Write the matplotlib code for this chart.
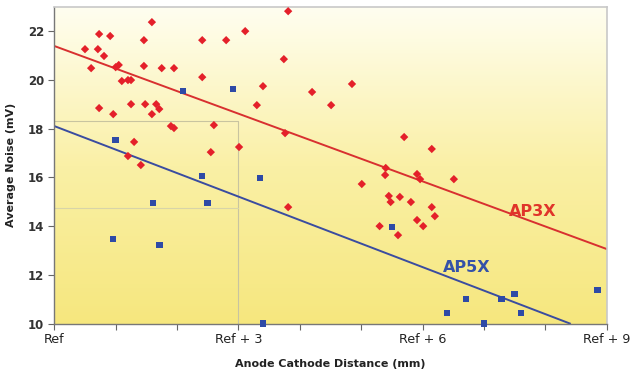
import numpy as np
import matplotlib
matplotlib.use("Agg")
import matplotlib.pyplot as plt
from matplotlib.colors import LinearSegmentedColormap

# --- Data ---
ap3x_x = [0.50, 0.60, 0.71, 0.73, 0.81, 0.91, 0.73, 0.96, 1.00, 1.05, 1.10, 1.20,
          1.25, 1.25, 1.20, 1.30, 1.41, 1.46, 1.46, 1.48, 1.59, 1.59, 1.66, 1.71,
          1.75, 1.90, 1.95, 1.95, 2.41, 2.41, 2.55, 2.60, 2.80, 3.01, 3.11, 3.30,
          3.40, 3.74, 3.76, 3.81, 4.20, 3.81, 4.51, 4.85, 5.01, 5.70, 6.15, 5.40,
          5.39, 5.91, 5.96, 6.51, 5.45, 5.63, 5.48, 5.81, 6.15, 6.20, 5.91, 6.01,
          5.30, 5.60]
ap3x_y = [21.27, 20.49, 21.27, 21.89, 20.99, 21.81, 18.85, 18.60, 20.53, 20.62, 19.96, 20.00,
          20.00, 19.01, 16.88, 17.46, 16.51, 21.64, 20.58, 19.01, 22.38, 18.60, 19.01, 18.81,
          20.49, 18.11, 18.03, 20.49, 21.64, 20.12, 17.04, 18.15, 21.64, 17.25, 22.01, 18.97,
          19.75, 20.86, 17.82, 22.83, 19.51, 14.78, 18.97, 19.84, 15.73, 17.66, 17.17, 16.39,
          16.10, 16.14, 15.93, 15.93, 15.24, 15.20, 14.99, 14.99, 14.78, 14.41, 14.25, 14.00,
          14.00, 13.63]

ap5x_x = [1.00, 2.10, 2.41, 2.91, 3.35, 1.61, 2.50, 0.96, 1.71, 3.40, 5.50, 6.40,
          6.71, 7.00, 7.29, 7.50, 7.60, 8.85]
ap5x_y = [17.54, 19.55, 16.06, 19.63, 15.98, 14.95, 14.95, 13.47, 13.22, 10.00, 13.96, 10.43,
          11.01, 10.00, 11.01, 11.21, 10.43, 11.38]

# trend lines: (x, y) end points
ap3x_fit_x = [0.0, 9.0]
ap3x_fit_y = [21.40, 13.06]
ap5x_fit_x = [0.0, 8.40]
ap5x_fit_y = [18.11, 10.0]

xticks = [0, 3, 6, 9]
xtick_labels = ["Ref", "Ref + 3", "Ref + 6", "Ref + 9"]
yticks = [10, 12, 14, 16, 18, 20, 22]

red = "#E4202A"
blue = "#2E4AA6"

# --- Plot ---
fig = plt.figure(figsize=(6.3, 3.71), dpi=100)
ax = fig.add_axes([0.0862, 0.128, 0.8768, 0.853])
ax.set_xlim(0, 9)
ax.set_ylim(10, 23)

# yellow gradient background
cmap = LinearSegmentedColormap.from_list("bg", ["#F6E77E", "#FAF0A6", "#FFFEF0"])
grad = np.linspace(0, 1, 256).reshape(-1, 1)
ax.imshow(grad, cmap=cmap, aspect="auto", extent=[0, 9, 10, 23],
          origin="lower", zorder=0)

# faint leftover grid box
ax.plot([0, 3, 3], [18.33, 18.33, 10], color="#C8C4A0", lw=0.8, zorder=1)
ax.plot([0, 3], [14.75, 14.75], color="#D8D4A8", lw=0.8, zorder=1)

ax.plot(ap3x_fit_x, ap3x_fit_y, color="#D83030", lw=1.4, zorder=2)
ax.plot(ap5x_fit_x, ap5x_fit_y, color="#3A4CA0", lw=1.4, zorder=2)

ax.scatter(ap3x_x, ap3x_y, marker="D", s=18, color=red, edgecolors="none",
           zorder=3, clip_on=False)
ax.scatter(ap5x_x, ap5x_y, marker="s", s=22, color=blue, edgecolors="none",
           zorder=3, clip_on=False)

ax.text(7.8, 14.6, "AP3X", color="#E0342A", fontsize=11.5, fontweight="bold",
        ha="center", va="center")
ax.text(6.72, 12.3, "AP5X", color="#3552A8", fontsize=11.5, fontweight="bold",
        ha="center", va="center")

ax.set_xticks(xticks)
ax.set_xticklabels(xtick_labels, fontsize=9.2, color="#222222")
ax.set_xticks(np.arange(0, 10, 1), minor=True)
ax.set_yticks(yticks)
ax.set_yticklabels([str(v) for v in yticks], fontsize=8.5, fontweight="bold",
                   color="#333333")
ax.tick_params(axis="both", which="both", direction="out", length=4,
               color="#666666", width=0.8)
ax.tick_params(axis="x", pad=3)

for side in ["top", "right"]:
    ax.spines[side].set_color("#C8C8C8")
    ax.spines[side].set_linewidth(1.2)
for side in ["left", "bottom"]:
    ax.spines[side].set_color("#777777")
    ax.spines[side].set_linewidth(1.0)

ax.set_xlabel("Anode Cathode Distance (mm)", fontsize=8, fontweight="bold",
              color="#222222", labelpad=9)
ax.set_ylabel("Average Noise (mV)", fontsize=8, fontweight="bold",
              color="#222222", labelpad=8)

fig.savefig("out.png", dpi=100)
